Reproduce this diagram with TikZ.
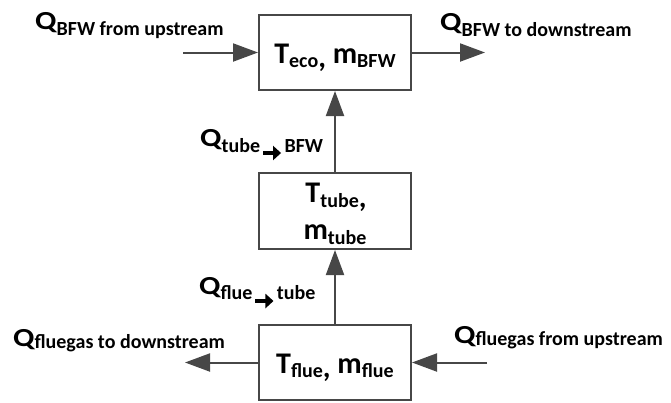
\documentclass[tikz,border=0pt]{standalone}
\usepackage{graphicx}
\usepackage{fontspec}
\setmainfont{Carlito}
\usetikzlibrary{arrows.meta}
\definecolor{edgegray}{HTML}{474747}
\newcommand{\Qbig}{{\fontsize{26}{26}\selectfont\scalebox{1.2}[1]{Q}}}
\newcommand{\lsub}[2]{\raisebox{-#1pt}{\fontsize{20}{20}\selectfont #2}}
\newcommand{\mainT}[1]{{\fontsize{30}{30}\selectfont #1}}
\newcommand{\bsub}[2]{\smash{\raisebox{-#1pt}{\fontsize{20}{20}\selectfont #2}}}
\newcommand{\harrow}[1]{\hspace{1pt}\smash{\tikz[baseline={(0pt,#1)}]{\draw[line width=4pt, black, -{Triangle[length=8pt,width=14pt]}] (0pt,0pt) -- (18pt,0pt);}}\hspace{1.5pt}}
\begin{document}
\begin{tikzpicture}[x=1pt,y=-1pt,
  box/.style={draw=edgegray, line width=2pt, minimum width=152pt, minimum height=75pt,
    inner sep=0pt, text height=21pt, text depth=0pt, font=\bfseries},
  lbl/.style={inner sep=0pt, font=\bfseries, anchor=base west},
  boxtxt/.style={inner sep=0pt, font=\bfseries, anchor=base},
  arr/.style={draw=edgegray, line width=2pt, -{Triangle[length=25pt,width=18pt]}}]
\useasboundingbox (0,0) rectangle (671,402);
% boxes
\node[box] (eco) at (335,52.5) {\mainT{T}\bsub{4}{eco}\mainT{\raisebox{-4pt}{,} m}\bsub{4}{BFW}};
\node[box, minimum height=76pt] (tube) at (335,211) {};
\node[boxtxt] (tubeT) at (336,202) {\mainT{T}\bsub{5}{tube}\mainT{\raisebox{-5pt}{,}}};
\node[boxtxt] (tubem) at (335,239) {\mainT{m}\bsub{5}{tube}};
\node[box] (flue) at (335,362.5) {\mainT{T}\bsub{4}{flue}\mainT{\raisebox{-4pt}{,} m}\bsub{4}{flue}};
% free ends
\coordinate (inL) at (183,52.5);
\coordinate (outR) at (485,52.5);
\coordinate (outL) at (185,362.5);
\coordinate (inR) at (487,362.5);
% connectors
\draw[arr] (inL) -- (eco.west);
\draw[arr] (eco.east) -- (outR);
\draw[arr] (tube.north) -- (eco.south);
\draw[arr] (flue.north) -- (tube.south);
\draw[arr] (flue.west) -- (outL);
\draw[arr] (inR) -- (flue.east);
% labels
\node[lbl] (qbfwin) at (35,29.5) {\Qbig\lsub{6}{BFW from upstream}};
\node[lbl] (qbfwout) at (440,30) {\Qbig\lsub{6}{BFW to downstream}};
\node[lbl] (qtube) at (200,146) {\Qbig\lsub{6}{tube\harrow{1pt}BFW}};
\node[lbl] (qflue) at (199,294) {\Qbig\lsub{5}{flue\harrow{2pt}tube}};
\node[lbl] (qgasout) at (13,346) {\Qbig\lsub{2}{fluegas to downstream}};
\node[lbl] (qgasin) at (454,343) {\Qbig\lsub{2}{fluegas from upstream}};
\end{tikzpicture}
\end{document}
